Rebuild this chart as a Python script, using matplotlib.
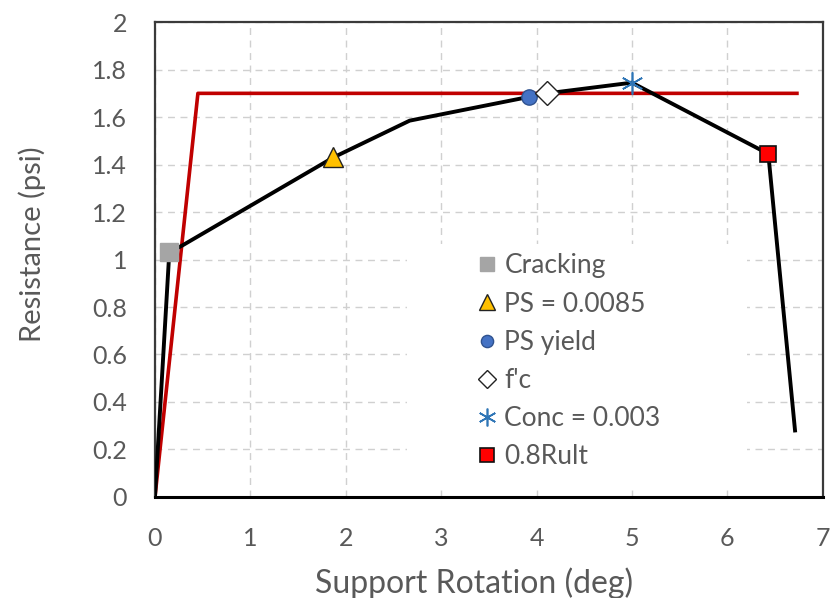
import matplotlib
matplotlib.use('Agg')
import matplotlib.pyplot as plt
from matplotlib.patches import Rectangle
from matplotlib.ticker import FuncFormatter

# resistance function (black) and bilinear idealisation (red)
rot = [0.0, 0.15, 0.29, 1.87, 2.67, 3.92, 4.11, 5.0, 6.43, 6.71]
res = [0.0, 1.03, 1.06, 1.43, 1.585, 1.685, 1.70, 1.745, 1.445, 0.28]
bil_rot = [0.0, 0.45, 6.73]
bil_res = [0.0, 1.70, 1.70]

# limit states
events = ['Cracking', 'PS = 0.0085', 'PS yield', "f'c", 'Conc = 0.003', '0.8Rult']
ev_rot = [0.15, 1.87, 3.92, 4.11, 5.0, 6.43]
ev_res = [1.03, 1.43, 1.685, 1.70, 1.745, 1.445]
ev_style = [
    dict(marker='s', mfc='#A5A5A5', mec='#A5A5A5', ms=13),
    dict(marker='^', mfc='#FFC000', mec='#222222', ms=15, mew=1.0),
    dict(marker='o', mfc='#4472C4', mec='#2F528F', ms=11, mew=1.0),
    dict(marker='D', mfc='white', mec='#222222', ms=12, mew=1.0),
    dict(marker=(6, 2, 0), mfc='#2E75B6', mec='#2E75B6', ms=16, mew=1.2),
    dict(marker='s', mfc='#FF0000', mec='#111111', ms=12, mew=1.2),
]

plt.rcParams['font.family'] = ['Lato', 'DejaVu Sans']
TXT = '#595959'

fig = plt.figure(figsize=(8.31, 5.98), dpi=100)
ax = fig.add_axes([0.1865, 0.169, 0.8035, 0.794])

ax.plot(bil_rot, bil_res, color='#C00000', lw=2.6, zorder=3)
ax.plot(rot, res, color='black', lw=2.8, zorder=4)
for name, x, y, st in zip(events, ev_rot, ev_res, ev_style):
    ax.plot([x], [y], ls='none', label=name, zorder=5, **st)

ax.set_xlim(0, 7)
ax.set_ylim(0, 2)
ax.set_xticks(range(8))
ax.set_yticks([i * 0.2 for i in range(11)])
ax.yaxis.set_major_formatter(FuncFormatter(lambda v, p: ('%.1f' % v).rstrip('0').rstrip('.')))
ax.tick_params(length=0, labelsize=18, labelcolor=TXT)
ax.tick_params(axis='y', pad=20)
ax.tick_params(axis='x', pad=22)
ax.grid(True, color='#D0D0D0', ls=(0, (5, 4)), lw=1.0)
for s in ax.spines.values():
    s.set_color('#3A3A3A')
    s.set_linewidth(1.6)
ax.spines['bottom'].set_color('black')
ax.spines['bottom'].set_linewidth(2.2)

ax.set_xlabel('Support Rotation (deg)', fontsize=23, color=TXT)
ax.set_ylabel('Resistance (psi)', fontsize=21, color=TXT)
ax.xaxis.set_label_coords(0.478, -0.148)
ax.yaxis.set_label_coords(-0.163, 0.533)

# legend area blanks out the grid behind it
ax.add_patch(Rectangle((0.377, 0.025), 0.509, 0.508, transform=ax.transAxes,
                       facecolor='white', edgecolor='none', zorder=2))
leg = ax.legend(loc='upper left', bbox_to_anchor=(0.47, 0.535), frameon=False,
                fontsize=19, labelcolor=TXT, handlelength=0.55, handletextpad=0.4,
                labelspacing=0.5, borderaxespad=0, markerscale=0.8)

fig.savefig('out.png', dpi=100)
